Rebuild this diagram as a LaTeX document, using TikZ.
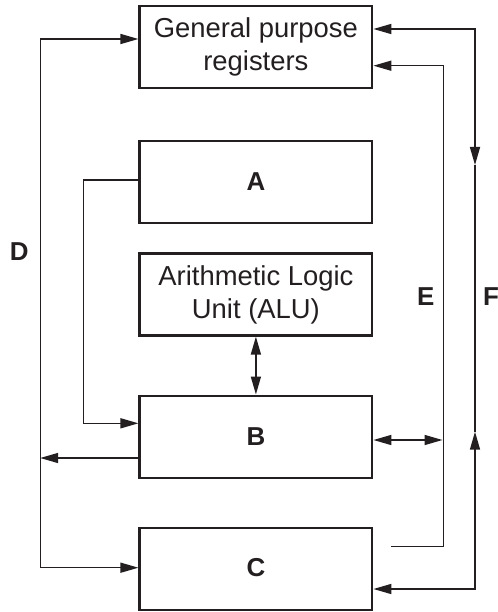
\documentclass[tikz,border=0pt]{standalone}
\usepackage{fontspec}
\setmainfont{Liberation Sans}
\usetikzlibrary{arrows.meta}
\definecolor{ink}{HTML}{231F20}
\begin{document}
\begin{tikzpicture}[x=1bp,y=-1bp,
  box/.style={draw=ink, line width=2.2bp, minimum width=232.8bp, minimum height=82bp,
    inner sep=0pt, align=center, text=ink, font=\fontsize{27.5}{33}\selectfont},
  lbl/.style={text=ink, inner sep=0pt, font=\fontsize{26}{30}\selectfont\bfseries},
  conn/.style={draw=ink, line width=1.5bp},
  tip/.tip={Triangle[length=18bp,width=10bp]}
]
\fill[white] (0,0) rectangle (498,612);
\useasboundingbox (0,0) rectangle (498,612);

\node[box] (gpr) at (255.9,46.7) {General purpose\\registers};
\node[box] (a) at (255.9,182) {};
\node[lbl] (alab) at (255.9,182) {A};
\node[box] (alu) at (255.9,294.5) {Arithmetic Logic\\Unit (ALU)};
\node[box] (b) at (255.9,436.6) {};
\node[lbl] (blab) at (255.9,437) {B};
\node[box] (c) at (255.9,569.2) {};
\node[lbl] (clab) at (255.9,568) {C};

\node[lbl] (d) at (19.2,251.7) {D};
\node[lbl] (e) at (425.7,296.7) {E};
\node[lbl] (f) at (491,296.7) {F};

% D bus
\draw[conn, tip-tip] (gpr.west |- 0,39) -- (40.7,39) -- (40.7,567.7) -- (c.west |- 0,567.7);
\draw[conn, -tip] (b.west |- 0,458) -- (40.2,458);
% A to B
\draw[conn, -tip] (a.west |- 0,180) -- (83.3,180) -- (83.3,423.3) -- (b.west |- 0,423.3);
% ALU <-> B
\draw[conn, tip-tip] (alu.south) -- (b.north);
% B <-> E
\draw[conn, tip-tip] (b.east |- 0,440) -- (442.5,440);
% E bus
\coordinate (efree) at (391,546.7);
\draw[conn, -tip] (efree) -- (443.3,546.7) -- (443.3,65.7) -- (gpr.east |- 0,65.7);
% F bus
\coordinate (ftop) at (475,29);
\coordinate (fbot) at (475,589);
\coordinate (fdown) at (475,165);
\coordinate (fup) at (475,431.7);
\draw[conn, tip-tip] (gpr.east |- ftop) -- (ftop) -- (fdown);
\draw[conn] (fdown) -- (fup);
\draw[conn, tip-tip] (c.east |- fbot) -- (fbot) -- (fup);
\end{tikzpicture}
\end{document}
